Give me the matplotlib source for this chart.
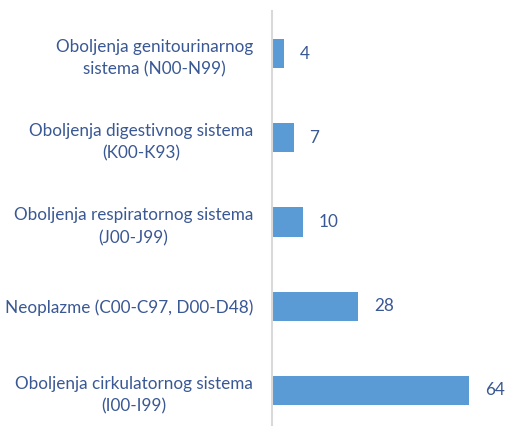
import matplotlib
matplotlib.use("Agg")
import matplotlib.pyplot as plt

categories = [
    "Oboljenja cirkulatornog sistema\n(I00-I99)",
    "Neoplazme (C00-C97, D00-D48)",
    "Oboljenja respiratornog sistema\n(J00-J99)",
    "Oboljenja digestivnog sistema\n(K00-K93)",
    "Oboljenja genitourinarnog\nsistema (N00-N99)",
]
values = [64, 28, 10, 7, 4]

W, H = 505, 426
fig = plt.figure(figsize=(W / 100, H / 100), dpi=100)
plt.rcParams["font.family"] = ["Lato", "DejaVu Sans"]

bar_color = "#5b9bd5"
text_color = "#3a5894"
fs = 12.3

# axes placed in pixel terms: value axis starts at x=272
left_px, right_px = 272, 502
top_px, bottom_px = 11.4, 432.6
ax = fig.add_axes([left_px / W, 1 - bottom_px / H,
                   (right_px - left_px) / W, (bottom_px - top_px) / H])

px_per_unit = 197 / 64
ax.set_xlim(0, (right_px - left_px) / px_per_unit)
ax.set_ylim(-0.5, len(categories) - 0.5)

pos = list(range(len(categories)))
ax.barh(pos, values, height=0.345, color=bar_color)

for y, v in zip(pos, values):
    ax.annotate(str(v), xy=(v, y), xytext=(11.5, 0), textcoords="offset points",
                ha="left", va="center", fontsize=fs, color=text_color)

ax.set_yticks(pos)
ax.set_yticklabels(categories, fontsize=fs, color=text_color,
                   multialignment="center", linespacing=1.5)
ax.tick_params(axis="y", length=0, pad=13.5)
ax.set_xticks([])

for s in ["top", "right", "bottom"]:
    ax.spines[s].set_visible(False)
ax.spines["left"].set_color("#d9d9d9")
ax.spines["left"].set_linewidth(1.5)

fig.savefig("out.png", dpi=100)
